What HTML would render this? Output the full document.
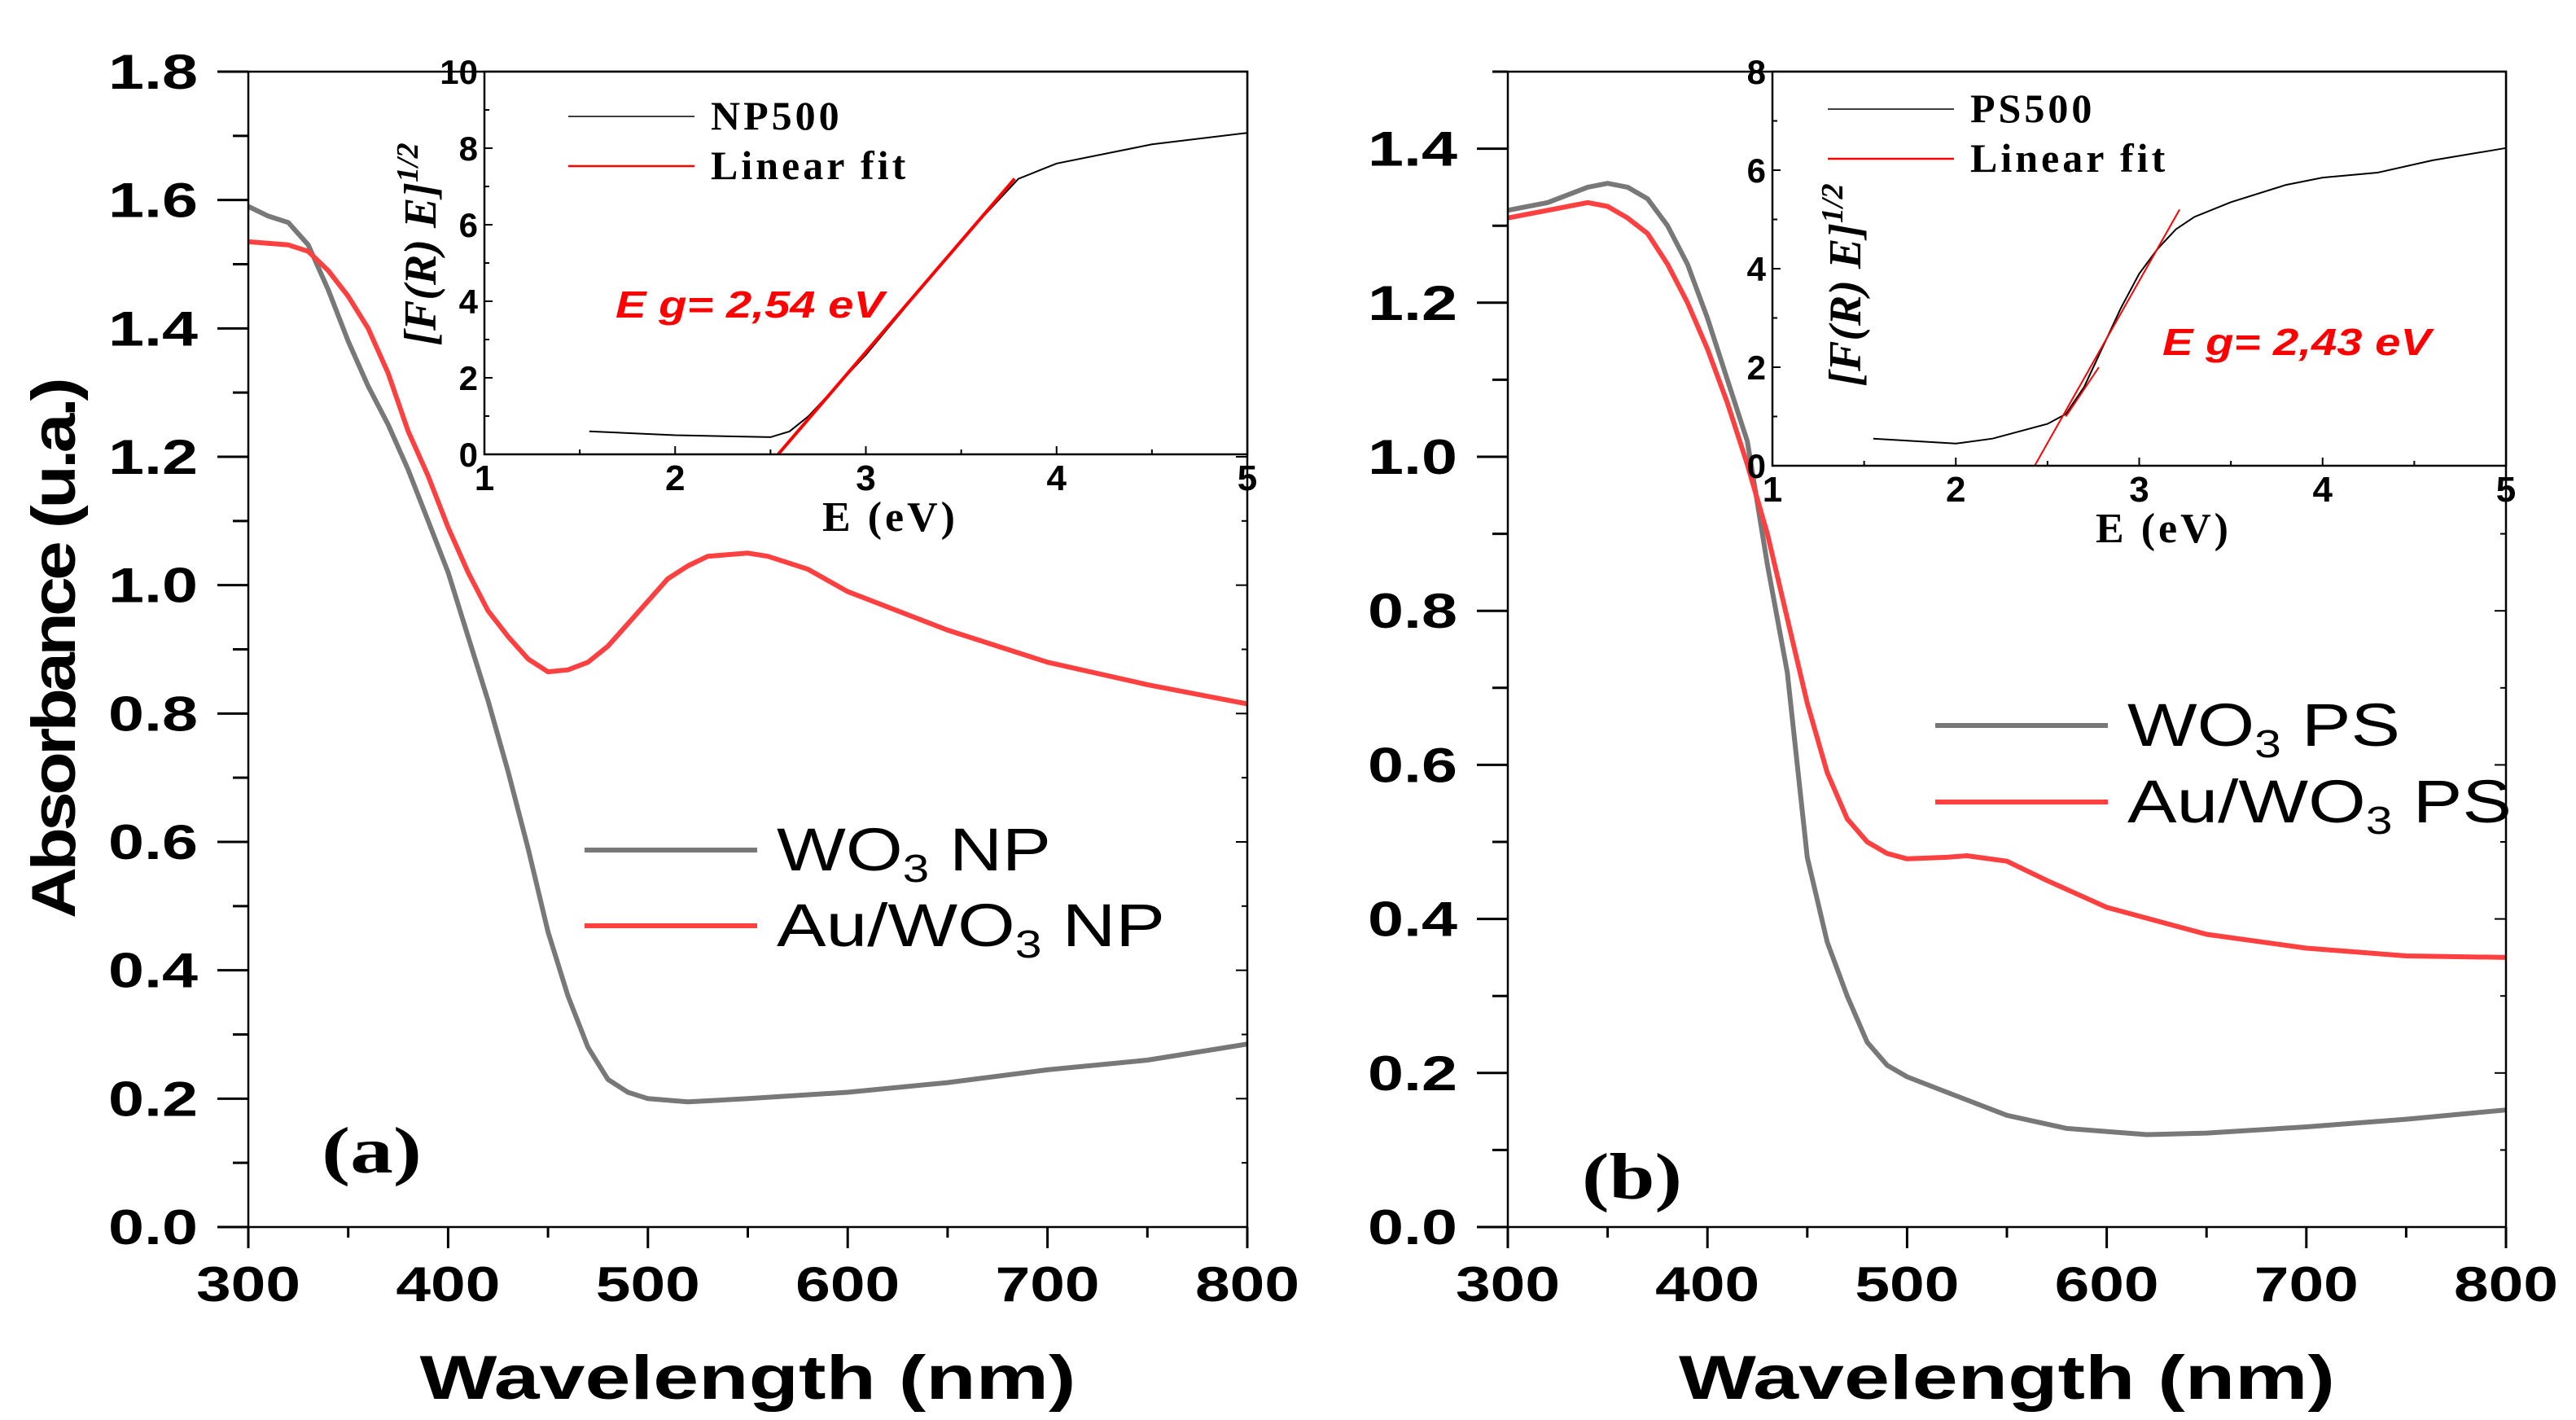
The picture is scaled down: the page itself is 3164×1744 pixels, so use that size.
<!DOCTYPE html>
<html><head><meta charset="utf-8">
<style>
html,body{margin:0;padding:0;background:#fff;}
svg{display:block;}
</style></head>
<body>
<svg id="fig" width="3164" height="1744" viewBox="0 0 3164 1744" xmlns="http://www.w3.org/2000/svg"></svg>
<script>
// ---------- Data ----------
const wlA = [300,310,320,330,340,350,360,370,380,390,400,410,420,430,440,450,460,470,480,490,500,520,550,600,650,700,750,800];
const wo3NP = [1.59,1.575,1.565,1.53,1.46,1.38,1.31,1.25,1.18,1.10,1.02,0.92,0.82,0.71,0.59,0.46,0.36,0.28,0.23,0.21,0.20,0.195,0.20,0.21,0.225,0.245,0.26,0.285];
const wlA2 = [300,320,330,340,350,360,370,380,390,400,410,420,430,440,450,460,470,480,490,500,510,520,530,550,560,580,600,650,700,750,800];
const auNP = [1.535,1.53,1.52,1.49,1.45,1.40,1.33,1.24,1.17,1.09,1.02,0.96,0.92,0.885,0.865,0.868,0.88,0.905,0.94,0.975,1.01,1.03,1.045,1.05,1.045,1.025,0.99,0.93,0.88,0.845,0.815];
const wlB = [300,320,340,350,360,370,380,390,400,410,420,430,440,450,460,470,480,490,500,520,550,580,620,650,700,750,800];
const wo3PS = [1.32,1.33,1.35,1.355,1.35,1.335,1.30,1.25,1.18,1.10,1.02,0.86,0.72,0.48,0.37,0.30,0.24,0.21,0.195,0.175,0.145,0.128,0.12,0.122,0.13,0.14,0.152];
const wlB2 = [300,320,340,350,360,370,380,390,400,410,420,430,440,450,460,470,480,490,500,520,530,550,570,600,650,700,750,800];
const auPS = [1.31,1.32,1.33,1.325,1.31,1.29,1.25,1.20,1.14,1.07,0.99,0.90,0.79,0.68,0.59,0.53,0.50,0.485,0.478,0.48,0.482,0.475,0.45,0.415,0.38,0.362,0.352,0.35];
const eA = [1.55,2.0,2.5,2.6,2.7,3.0,3.5,3.8,3.9,4.0,4.5,5.0];
const tA = [0.6,0.5,0.45,0.6,1.0,2.6,5.6,7.2,7.4,7.6,8.1,8.4];
const fitA = [[2.54,0],[3.78,7.2]];
const eB = [1.55,2.0,2.2,2.5,2.6,2.7,2.8,2.9,3.0,3.1,3.2,3.3,3.5,3.8,4.0,4.3,4.6,5.0];
const tB = [0.55,0.45,0.55,0.85,1.05,1.6,2.4,3.2,3.9,4.4,4.8,5.05,5.35,5.7,5.85,5.95,6.2,6.45];
const fitB = [[2.43,0],[3.22,5.2]];
const fitB2 = [[2.6,1.0],[2.78,2.0]];
const xTicks = [300,400,500,600,700,800];
const yTicksA = [0,0.2,0.4,0.6,0.8,1.0,1.2,1.4,1.6,1.8];
const yTicksB = [0,0.2,0.4,0.6,0.8,1.0,1.2,1.4];

const NS='http://www.w3.org/2000/svg';
const svg=document.getElementById('fig');
function mk(tag,attrs,parent,text){const e=document.createElementNS(NS,tag);for(const k in attrs)e.setAttribute(k,attrs[k]);if(text!==undefined)e.textContent=text;(parent||svg).appendChild(e);return e;}
function lin(d0,d1,r0,r1){return v=>r0+(v-d0)*(r1-r0)/(d1-d0);}
function pathD(xs,ys,sx,sy){return xs.map((v,i)=>(i?'L':'M')+sx(v).toFixed(1)+' '+sy(ys[i]).toFixed(1)).join(' ');}

function mainPanel(o){
  const g=mk('g',{});
  
  
  const sx=lin(300,800,o.x0,o.x1), sy=lin(0,o.ymax,o.yb,o.yt);
  const c1=mk('path',{d:pathD(o.xs1,o.ys1,sx,sy),fill:'none',stroke:'#787878','stroke-width':6,'stroke-linejoin':'round'},g);
  
  
  const c2=mk('path',{d:pathD(o.xs2,o.ys2,sx,sy),fill:'none',stroke:'#ff4040','stroke-width':6,'stroke-linejoin':'round'},g);
  
  
  const fr=mk('rect',{x:o.x0,y:o.yt,width:o.x1-o.x0,height:o.yb-o.yt,fill:'none',stroke:'#000','stroke-width':2.5},g);
  
  
  for(let v=300;v<=800;v+=50){const maj=v%100===0;mk('line',{x1:sx(v),x2:sx(v),y1:o.yb,y2:o.yb+(maj?26:13),stroke:'#000','stroke-width':3},g);}
  xTicks.forEach(v=>{const t=mk('text',{x:sx(v),y:1598,'text-anchor':'middle','font-family':'Liberation Sans, sans-serif','font-weight':'bold','font-size':60,textLength:128,lengthAdjust:'spacingAndGlyphs'},g,String(v));
    
    });
  for(let v=0;v<=o.ymax+1e-9;v+=0.1){const maj=Math.round(v*10)%2===0;mk('line',{x1:o.x0-(maj?38:19),x2:o.x0,y1:sy(v),y2:sy(v),stroke:'#000','stroke-width':3},g);
    mk('line',{x1:o.x1-(maj?14:7),x2:o.x1,y1:sy(v),y2:sy(v),stroke:'#000','stroke-width':2},g);}
  o.yt_labels.forEach(v=>{const t=mk('text',{x:o.x0-62,y:sy(v)+21,'text-anchor':'end','font-family':'Liberation Sans, sans-serif','font-weight':'bold','font-size':60,textLength:110,lengthAdjust:'spacingAndGlyphs'},g,v.toFixed(1));
    
    });
  const xt=mk('text',{x:(o.x0+o.x1)/2+o.xtOff,y:1718,'text-anchor':'middle','font-family':'Liberation Sans, sans-serif','font-weight':'bold','font-size':76,textLength:806,lengthAdjust:'spacingAndGlyphs'},g,'Wavelength (nm)');
  
  
  [[o.n1l,'#787878',o.legY1,o.tl1],[o.n2l,'#ff4040',o.legY2,o.tl2]].forEach(([lab,col,ly,tl])=>{
    const l=mk('line',{x1:o.legX,x2:o.legX+212,y1:ly,y2:ly,stroke:col,'stroke-width':6},g);
    
    
    const t=mk('text',{x:o.legX+236,y:ly+25,'font-family':'Liberation Sans, sans-serif','font-size':74,textLength:tl,lengthAdjust:'spacingAndGlyphs'},g);
    
    
    mk('tspan',{},t,lab[0]);
    mk('tspan',{'font-size':48,dy:14},t,'3');
    mk('tspan',{dy:-14},t,' '+lab[1]);
  });
  const pl=mk('text',{x:o.plX,y:o.plY,'font-family':'Liberation Serif, serif','font-weight':'bold','font-size':80,textLength:123,lengthAdjust:'spacingAndGlyphs'},g,o.pl);
  
  
  return g;
}

function inset(o){
  const g=mk('g',{});
  
  
  mk('rect',{x:o.x0,y:o.yt,width:o.x1-o.x0,height:o.yb-o.yt,fill:'#fff',stroke:'none'},g);
  const sx=lin(1,5,o.x0,o.x1), sy=lin(0,o.ymax,o.yb,o.yt);
  const c=mk('path',{d:pathD(o.es,o.ts,sx,sy),fill:'none',stroke:'#000','stroke-width':2},g);
  
  
  o.fits.forEach(f=>{const l=mk('line',{x1:sx(f[0][0]),y1:sy(f[0][1]),x2:sx(f[1][0]),y2:sy(f[1][1]),stroke:'#ff0000','stroke-width':o.fitW},g);
    
    });
  mk('rect',{x:o.x0,y:o.yt,width:o.x1-o.x0,height:o.yb-o.yt,fill:'none',stroke:'#000','stroke-width':2.5},g);
  for(let v=1;v<=5.001;v+=0.5){const maj=Math.abs(v-Math.round(v))<1e-6;mk('line',{x1:sx(v),x2:sx(v),y1:o.yb,y2:o.yb-(maj?10:6),stroke:'#000','stroke-width':2},g);
    if(maj){const t=mk('text',{x:sx(v),y:o.yb+44,'text-anchor':'middle','font-family':'Liberation Sans, sans-serif','font-weight':'bold','font-size':44},g,String(v));
      
      }}
  for(let v=0;v<=o.ymax;v+=1){const maj=v%2===0;mk('line',{x1:o.x0,x2:o.x0+(maj?10:6),y1:sy(v),y2:sy(v),stroke:'#000','stroke-width':2},g);
    if(maj){const t=mk('text',{x:o.x0-8,y:sy(v)+15,'text-anchor':'end','font-family':'Liberation Sans, sans-serif','font-weight':'bold','font-size':42},g,String(v));
      
      }}
  const xt=mk('text',{x:(o.x0+o.x1)/2+30,y:o.yb+94,'text-anchor':'middle','font-family':'Liberation Serif, serif','font-weight':'bold','font-size':52,'letter-spacing':4},g,'E (eV)');
  
  
  const yt=mk('text',{transform:`translate(${o.ylX},${o.ylY}) rotate(-90)`,'text-anchor':'middle','font-family':'Liberation Serif, serif','font-weight':'bold','font-style':'italic','font-size':56},g);
  
  
  mk('tspan',{},yt,'[F(R) E]');
  mk('tspan',{'font-size':38,dy:-22},yt,'1/2');
  [[o.lab,'#000',o.legY],['Linear fit','#ff0000',o.legY+o.legDy]].forEach(([lab,col,ly])=>{
    const l=mk('line',{x1:o.legX,x2:o.legX+155,y1:ly,y2:ly,stroke:col,'stroke-width':col==='#000'?1.5:2.5},g);
    
    
    const t=mk('text',{x:o.legX+175,y:ly+16,'font-family':'Liberation Serif, serif','font-weight':'bold','font-size':50,'letter-spacing':4},g,lab);
    
    
  });
  const eg=mk('text',{x:o.egX,y:o.egY,'font-family':'Liberation Sans, sans-serif','font-weight':'bold','font-style':'italic','font-size':46,fill:'#ff0000',textLength:330,lengthAdjust:'spacingAndGlyphs'},g,o.eg);
  
  
}

mainPanel({name:'panel-a',x0:305,x1:1532,yt:88,yb:1507,ymax:1.8,xs1:wlA,ys1:wo3NP,xs2:wlA2,ys2:auNP,n1:'wo3-np',n2:'au-wo3-np',
  n1l:['WO','NP'],n2l:['Au/WO','NP'],tl1:337,tl2:477,yt_labels:yTicksA,legX:718,legY1:1044,legY2:1137,pl:'(a)',plX:395,plY:1440,xtOff:0});
mainPanel({name:'panel-b',x0:1852,x1:3078,yt:88,yb:1507,ymax:1.5,xs1:wlB,ys1:wo3PS,xs2:wlB2,ys2:auPS,n1:'wo3-ps',n2:'au-wo3-ps',
  n1l:['WO','PS'],n2l:['Au/WO','PS'],tl1:335,tl2:472,yt_labels:yTicksB,legX:2377,legY1:891,legY2:985,pl:'(b)',plX:1943,plY:1472,xtOff:0});
inset({name:'inset-a',x0:595,x1:1532,yt:88,yb:558,ymax:10,es:eA,ts:tA,fits:[fitA],fitW:4,lab:'NP500',legX:698,legY:143,legDy:61,
  ylX:535,ylY:300,eg:'E g= 2,54 eV',egX:756,egY:390});
inset({name:'inset-b',x0:2177,x1:3078,yt:88,yb:572,ymax:8,es:eB,ts:tB,fits:[fitB,fitB2],fitW:2,lab:'PS500',legX:2245,legY:134,legDy:61,
  ylX:2285,ylY:350,eg:'E g= 2,43 eV',egX:2656,egY:436});

const yat=mk('text',{transform:'translate(92,798) rotate(-90)','text-anchor':'middle','font-family':'Liberation Sans, sans-serif','font-weight':'bold','font-size':76,textLength:660,lengthAdjust:'spacingAndGlyphs','letter-spacing':-4},svg,'Absorbance (u.a.)');


</script>
</body></html>
